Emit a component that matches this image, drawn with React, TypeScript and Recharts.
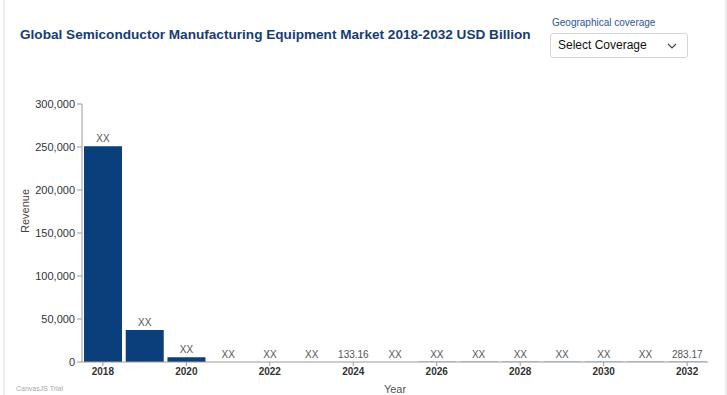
import React from 'react'
import { BarChart, Bar, XAxis, YAxis, LabelList } from 'recharts'

const years = ['2018', '2019', '2020', '2021', '2022', '2023', '2024', '2025', '2026', '2027', '2028', '2029', '2030', '2031', '2032']
const revenue = [251000, 37200, 5600, 110, 115, 120, 133.16, 145, 160, 175, 190, 210, 230, 255, 283.17]
const valueLabels = ['XX', 'XX', 'XX', 'XX', 'XX', 'XX', '133.16', 'XX', 'XX', 'XX', 'XX', 'XX', 'XX', 'XX', '283.17']
const yTicks = [0, 50000, 100000, 150000, 200000, 250000, 300000]

const data = years.map((year, i) => ({ year, revenue: revenue[i], label: valueLabels[i] }))

const barColor = '#0a3f7c'
const axisColor = '#9a9a9a'
const font = 'Arial, "Liberation Sans", sans-serif'

export default function App() {
  return (
    <div style={{ position: 'relative', width: 727, height: 395, background: '#fff', fontFamily: font, overflow: 'hidden' }}>
      <style>{`body { margin: 0; }`}</style>
      <div style={{ position: 'absolute', left: 3, top: 0, width: 720, height: 395, borderLeft: '2px solid #ededed', borderRight: '2px solid #ededed' }} />
      <div
        style={{
          position: 'absolute',
          left: 20,
          top: 27,
          fontSize: 13.6,
          fontWeight: 700,
          color: '#163d73',
          whiteSpace: 'nowrap',
        }}
      >
        Global Semiconductor Manufacturing Equipment Market 2018-2032 USD Billion
      </div>
      <div style={{ position: 'absolute', left: 552, top: 17, fontSize: 10, color: '#2c55a0' }}>Geographical coverage</div>
      <div
        style={{
          position: 'absolute',
          left: 550,
          top: 33,
          width: 136,
          height: 23,
          border: '1px solid #d6d6d6',
          borderRadius: 3,
          boxSizing: 'content-box',
        }}
      >
        <span style={{ position: 'absolute', left: 7, top: 4, fontSize: 12, color: '#111' }}>Select Coverage</span>
        <svg width="10" height="6" style={{ position: 'absolute', left: 116, top: 9 }}>
          <polyline points="1,1 5,5 9,1" fill="none" stroke="#444" strokeWidth="1.2" />
        </svg>
      </div>
      <div style={{ position: 'absolute', left: 0, top: 0 }}>
        <BarChart
          width={727}
          height={395}
          data={data}
          margin={{ top: 104, right: 19, bottom: 3, left: 22 }}
          barCategoryGap={2}
        >
          <XAxis
            dataKey="year"
            interval={1}
            height={30}
            stroke={axisColor}
            tickSize={4}
            tick={{ fill: '#333', fontSize: 10, fontWeight: 700, fontFamily: font }}
            label={{ value: 'Year', position: 'insideBottom', offset: -1, fill: '#555', fontSize: 11, fontFamily: font }}
          />
          <YAxis
            width={60}
            domain={[0, 300000]}
            ticks={yTicks}
            stroke={axisColor}
            tickSize={5}
            tickFormatter={(v: number) => v.toLocaleString('en-US')}
            tick={{ fill: '#333', fontSize: 11, fontFamily: font }}
            label={{ value: 'Revenue', angle: -90, position: 'insideLeft', offset: 3, fill: '#444', fontSize: 11, fontFamily: font }}
          />
          <Bar dataKey="revenue" fill={barColor} isAnimationActive={false}>
            <LabelList dataKey="label" position="top" offset={4} fill="#555" fontSize={10} fontFamily={font} />
          </Bar>
        </BarChart>
      </div>
      <div style={{ position: 'absolute', left: 16, top: 385, fontSize: 7, lineHeight: '8px', color: '#aaa' }}>CanvasJS Trial</div>
    </div>
  )
}
